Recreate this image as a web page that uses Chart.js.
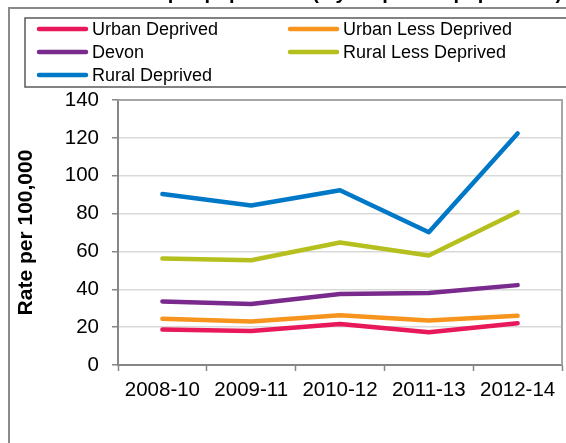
<!DOCTYPE html>
<html>
<head>
<meta charset="utf-8">
<script src="https://cdn.jsdelivr.net/npm/chart.js@4"></script>
<style>
  html, body { margin: 0; padding: 0; background: #fff; }
  #wrap { width: 566px; height: 443px; }
</style>
</head>
<body>
<div id="wrap"><canvas id="chart" width="566" height="443"></canvas></div>
<script>
// data
const periods = ['2008-10', '2009-11', '2010-12', '2011-13', '2012-14'];
const seriesNames = ['Urban Deprived', 'Urban Less Deprived', 'Devon', 'Rural Less Deprived', 'Rural Deprived'];
const urbanDeprived = [18.7, 18.0, 21.6, 17.3, 22.1];
const urbanLessDeprived = [24.4, 23.0, 26.3, 23.5, 26.0];
const devon = [33.6, 32.2, 37.5, 38.0, 42.2];
const ruralLessDeprived = [56.2, 55.3, 64.7, 57.9, 80.8];
const ruralDeprived = [90.3, 84.3, 92.3, 70.1, 122.3];
const yTicks = [0, 20, 40, 60, 80, 100, 120, 140];
const yTitle = 'Rate per 100,000';
const chartTitle = 'Admission rate per population (3 year pooled population)';

const colours = ['#E8185A', '#F7941D', '#7A2A8C', '#B5C01E', '#0078C8'];
const values = [urbanDeprived, urbanLessDeprived, devon, ruralLessDeprived, ruralDeprived];
const FONT = "'Liberation Sans', Arial, sans-serif";

const datasets = seriesNames.map((name, i) => ({
  label: name,
  data: values[i],
  borderColor: colours[i],
  backgroundColor: colours[i],
  borderWidth: 4.5,
  borderCapStyle: 'round',
  borderJoinStyle: 'round',
  pointRadius: 0,
  tension: 0
}));

// outer frame, cut-off title, legend box and items
const framePlugin = {
  id: 'frame',
  beforeDraw(chart) {
    const ctx = chart.ctx;
    ctx.save();
    ctx.fillStyle = '#fff';
    ctx.fillRect(0, 0, chart.width, chart.height);
    // title, almost entirely above the visible area
    ctx.fillStyle = '#000';
    ctx.font = 'bold 20px ' + FONT;
    ctx.textAlign = 'center';
    ctx.textBaseline = 'alphabetic';
    ctx.fillText(chartTitle, 290, -1.5);
    // outer box
    ctx.strokeStyle = '#8a8a8a';
    ctx.lineWidth = 2;
    ctx.beginPath();
    ctx.moveTo(9, chart.height + 2);
    ctx.lineTo(9, 8);
    ctx.lineTo(chart.width + 2, 8);
    ctx.stroke();
    // legend box
    ctx.strokeStyle = '#5a5a5a';
    ctx.lineWidth = 1.5;
    ctx.beginPath();
    ctx.moveTo(chart.width + 2, 18);
    ctx.lineTo(25, 18);
    ctx.lineTo(25, 87);
    ctx.lineTo(chart.width + 2, 87);
    ctx.stroke();
    ctx.restore();
  },
  afterDraw(chart) {
    const ctx = chart.ctx;
    const area = chart.chartArea;
    ctx.save();
    // top and right plot border
    ctx.strokeStyle = '#a6a6a6';
    ctx.lineWidth = 2;
    ctx.beginPath();
    ctx.moveTo(area.left, area.top);
    ctx.lineTo(area.right, area.top);
    ctx.lineTo(area.right, area.bottom);
    ctx.stroke();
    // legend items
    const cols = [37, 288];
    const rows = [29, 52, 75];
    ctx.font = '18px ' + FONT;
    ctx.textBaseline = 'middle';
    ctx.textAlign = 'left';
    chart.data.datasets.forEach((ds, i) => {
      const x = cols[i % 2];
      const y = rows[Math.floor(i / 2)];
      ctx.strokeStyle = ds.borderColor;
      ctx.lineWidth = 4.5;
      ctx.lineCap = 'round';
      ctx.beginPath();
      ctx.moveTo(x + 2, y);
      ctx.lineTo(x + 49, y);
      ctx.stroke();
      ctx.fillStyle = '#000';
      ctx.fillText(ds.label, x + 55, y + 1);
    });
    ctx.restore();
  }
};

new Chart(document.getElementById('chart'), {
  type: 'line',
  data: { labels: periods, datasets: datasets },
  plugins: [framePlugin],
  options: {
    responsive: false,
    animation: false,
    layout: { padding: { top: 100, right: 4, left: 0, bottom: 0 } },
    plugins: {
      legend: { display: false },
      tooltip: { enabled: false }
    },
    scales: {
      x: {
        offset: true,
        afterFit: (scale) => { scale.height = 78; },
        border: { color: '#868686', width: 2 },
        grid: {
          offset: true,
          drawOnChartArea: false,
          drawTicks: true,
          tickLength: 6,
          tickColor: '#868686',
          tickWidth: 1.5
        },
        ticks: {
          color: '#000',
          font: { family: FONT, size: 20.5 },
          padding: 7,
          maxRotation: 0,
          autoSkip: false
        }
      },
      y: {
        min: 0,
        max: 140,
        afterFit: (scale) => { scale.width = 118; },
        afterBuildTicks: (scale) => { scale.ticks = yTicks.map(v => ({ value: v })); },
        border: { color: '#868686', width: 2 },
        grid: {
          color: '#d9d9d9',
          lineWidth: 1.5,
          tickLength: 6,
          tickColor: '#868686',
          tickWidth: 1.5
        },
        ticks: {
          color: '#000',
          font: { family: FONT, size: 20.5 },
          padding: 13
        },
        title: {
          display: true,
          text: yTitle,
          color: '#000',
          font: { family: FONT, size: 21, weight: 'bold' },
          padding: { top: 14, bottom: 0 }
        }
      }
    }
  }
});
</script>
</body>
</html>
